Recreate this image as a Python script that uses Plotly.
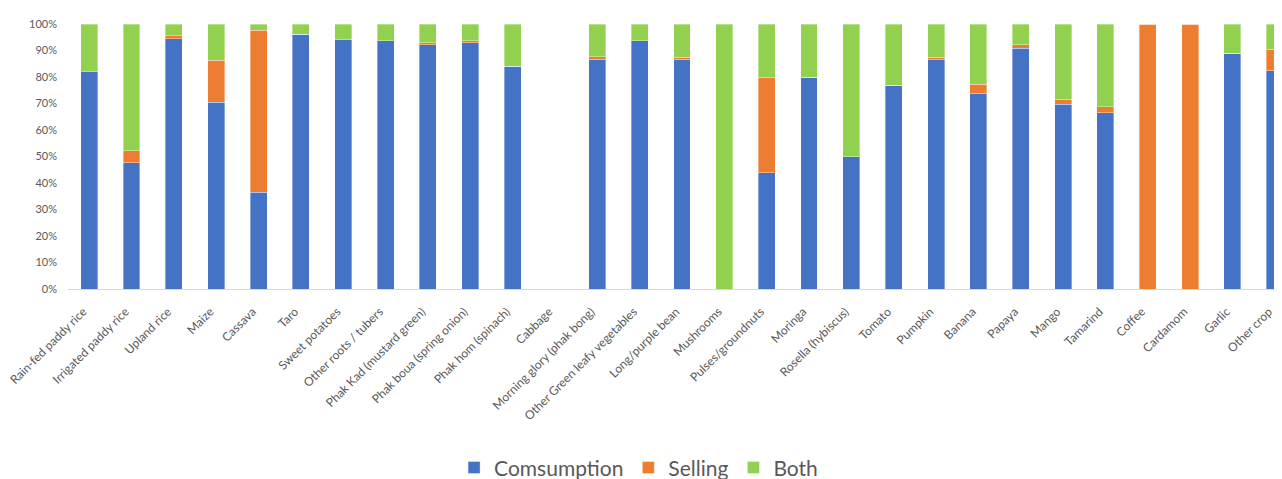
import plotly.graph_objects as go

categories = ["Rain-fed paddy rice", "Irrigated paddy rice", "Upland rice", "Maize", "Cassava",
              "Taro", "Sweet potatoes", "Other roots / tubers", "Phak Kad (mustard green)",
              "Phak boua (spring onion)", "Phak hom (spinach)", "Cabbage",
              "Morning glory (phak bong)", "Other Green leafy vegetables", "Long/purple bean",
              "Mushrooms", "Pulses/groundnuts", "Moringa", "Rosella (hybiscus)", "Tomato",
              "Pumpkin", "Banana", "Papaya", "Mango", "Tamarind", "Coffee", "Cardamom",
              "Garlic", "Other crop"]

consumption = [82.0, 47.7, 94.5, 70.4, 36.5, 96.2, 94.0, 93.6, 92.1, 92.9, 84.0, 0,
               86.7, 93.6, 86.7, 0, 43.9, 79.9, 50.0, 76.9, 86.5, 73.8, 90.8, 69.8, 66.5,
               0, 0, 88.9, 82.4]
selling = [0, 4.5, 1.1, 15.9, 61.2, 0, 0, 0, 0.8, 0.8, 0, 0,
           1.0, 0, 0.7, 0, 36.0, 0, 0, 0, 1.0, 3.4, 1.3, 1.8, 2.3,
           100, 100, 0, 8.0]
both = [18.0, 47.8, 4.4, 13.7, 2.3, 3.8, 6.0, 6.4, 7.1, 6.3, 16.0, 0,
        12.3, 6.4, 12.6, 100, 20.1, 20.1, 50.0, 23.1, 12.5, 22.8, 7.9, 28.4, 31.2,
        0, 0, 11.1, 9.6]

series = [("Comsumption", consumption, "#4472C4"),
          ("Selling", selling, "#ED7D31"),
          ("Both", both, "#92D050")]

fig = go.Figure()
for name, vals, col in series:
    fig.add_trace(go.Bar(x=list(range(len(categories))), y=[v / 100 for v in vals], name=name,
                         marker=dict(color=col, line=dict(color="rgba(255,255,255,0.6)", width=0.6))))

fig.update_layout(
    width=1274, height=471,
    barmode="stack", bargap=0.6,
    margin=dict(l=60, r=0, t=16, b=190, autoexpand=False),
    paper_bgcolor="white", plot_bgcolor="white",
    font=dict(family="Lato, Open Sans, sans-serif", color="#595959"),
    showlegend=True,
    legend=dict(orientation="h", x=0.47, xanchor="center", y=-0.675, yanchor="middle",
                font=dict(size=21, color="#595959"), itemwidth=30, traceorder="normal"),
    xaxis=dict(tickmode="array", tickvals=list(range(len(categories))), ticktext=categories,
               range=[-0.5, 28.17], tickangle=-45, tickfont=dict(size=12, color="#595959"),
               showline=True, linecolor="#d9d9d9", linewidth=1, showgrid=False, ticks="",
               zeroline=False, automargin=False, ticklabelstandoff=10, ticklabelshift=-6,
               ticklabeloverflow="allow"),
    yaxis=dict(range=[0, 1], tickformat=".0%", dtick=0.1, tickfont=dict(size=11, color="#595959"),
               showgrid=False, zeroline=False, showline=False, ticks="", ticklabelstandoff=10,
               automargin=False),
)

fig.write_html("out.html")
